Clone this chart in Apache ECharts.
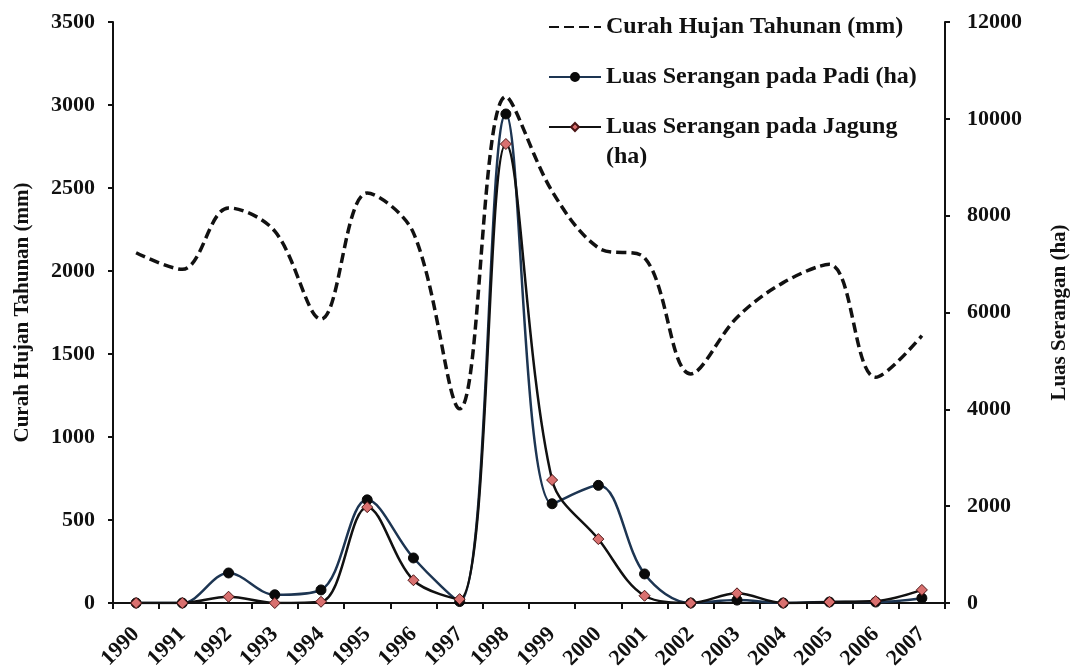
<!DOCTYPE html>
<html>
<head>
<meta charset="utf-8">
<script src="https://cdn.jsdelivr.net/npm/echarts@6/dist/echarts.min.js"></script>
<style>
  html, body { margin: 0; padding: 0; background: #fff; }
  #chart { width: 1070px; height: 672px; }
</style>
</head>
<body>
<div id="chart"></div>
<script>
/* Curah hujan vs luas serangan — dual axis line chart */
const years = ['1990', '1991', '1992', '1993', '1994', '1995', '1996', '1997', '1998',
  '1999', '2000', '2001', '2002', '2003', '2004', '2005', '2006', '2007'];
const curahHujan = [2110, 2010, 2380, 2240, 1710, 2470, 2230, 1170, 3050,
  2480, 2140, 2080, 1380, 1720, 1930, 2040, 1360, 1610];
const padi = [0, 0, 620, 170, 270, 2130, 930, 30, 10100,
  2050, 2430, 600, 0, 60, 0, 20, 20, 100];
const jagung = [0, 0, 130, 0, 25, 1980, 470, 80, 9480,
  2540, 1320, 150, 0, 200, 0, 20, 40, 270];

const NAME_RAIN = 'Curah Hujan Tahunan (mm)';
const NAME_PADI = 'Luas Serangan pada Padi (ha)';
const NAME_JAGUNG = 'Luas Serangan pada Jagung (ha)';

const font = 'Liberation Serif, Times New Roman, serif';
const ink = '#111';
const legendText = { fontFamily: font, fontWeight: 'bold', fontSize: 24, color: ink, lineHeight: 30 };
const tickText = { fontFamily: font, fontWeight: 'bold', fontSize: 22, color: ink };
const nameText = { fontFamily: font, fontWeight: 'bold', fontSize: 21, color: ink };
const plain = (v) => String(v);

const chart = echarts.init(document.getElementById('chart'));
chart.setOption({
  backgroundColor: '#fff',
  animation: false,
  textStyle: { fontFamily: font },
  grid: { left: 113, right: 125, top: 22, bottom: 69, outerBoundsMode: 'none' },
  legend: [
    {
      orient: 'vertical',
      left: 543,
      top: 7,
      itemWidth: 52,
      itemHeight: 10,
      itemGap: 20,
      textStyle: legendText,
      data: [
        { name: NAME_RAIN, itemStyle: { opacity: 0 } },
        { name: NAME_PADI },
      ],
    },
    {
      orient: 'vertical',
      left: 543,
      top: 77,
      itemWidth: 52,
      itemHeight: 10,
      textStyle: legendText,
      // blank first line keeps the icon level with the first line of text
      formatter: (n) => '\u00a0\n' + n.replace(' (ha)', '\n(ha)'),
      data: [{ name: NAME_JAGUNG }],
    },
  ],
  xAxis: {
    type: 'category',
    data: years,
    boundaryGap: true,
    axisLine: { lineStyle: { color: ink, width: 2 } },
    axisTick: { show: true, inside: false, length: 6, lineStyle: { color: ink, width: 2 } },
    axisLabel: Object.assign({ rotate: 45, margin: 28, interval: 0 }, tickText),
    splitLine: { show: false },
  },
  yAxis: [
    {
      type: 'value',
      min: 0, max: 3500, interval: 500,
      name: 'Curah Hujan Tahunan (mm)',
      nameLocation: 'middle',
      nameRotate: 90,
      nameGap: 80,
      nameTextStyle: nameText,
      axisLine: { show: true, lineStyle: { color: ink, width: 2 } },
      axisTick: { show: true, length: 5, lineStyle: { color: ink, width: 2 } },
      axisLabel: Object.assign({ margin: 18, formatter: plain }, tickText),
      splitLine: { show: false },
    },
    {
      type: 'value',
      min: 0, max: 12000, interval: 2000,
      position: 'right',
      name: 'Luas Serangan (ha)',
      nameLocation: 'middle',
      nameRotate: 90,
      nameGap: 104,
      nameTextStyle: nameText,
      axisLine: { show: true, lineStyle: { color: ink, width: 2 } },
      axisTick: { show: true, length: 5, lineStyle: { color: ink, width: 2 } },
      axisLabel: Object.assign({ margin: 22, formatter: plain }, tickText),
      splitLine: { show: false },
    },
  ],
  series: [
    {
      name: NAME_RAIN,
      type: 'line',
      yAxisIndex: 0,
      data: curahHujan,
      smooth: 0.35,
      symbol: 'none',
      color: ink,
      lineStyle: { color: ink, width: 3.5, type: [10, 5] },
      z: 2,
    },
    {
      name: NAME_PADI,
      type: 'line',
      yAxisIndex: 1,
      data: padi,
      smooth: 0.35,
      symbol: 'circle',
      symbolSize: 10,
      color: '#1d3552',
      lineStyle: { color: '#1d3552', width: 2.5 },
      itemStyle: { color: '#0a0a0a', borderColor: '#0a0a0a', borderWidth: 1 },
      z: 3,
    },
    {
      name: NAME_JAGUNG,
      type: 'line',
      yAxisIndex: 1,
      data: jagung,
      smooth: 0.35,
      symbol: 'diamond',
      symbolSize: 11,
      color: '#111',
      lineStyle: { color: '#111', width: 2.5 },
      itemStyle: { color: '#d9706f', borderColor: '#4a1414', borderWidth: 1 },
      z: 4,
    },
  ],
});
window.addEventListener('resize', () => chart.resize());
</script>
</body>
</html>
